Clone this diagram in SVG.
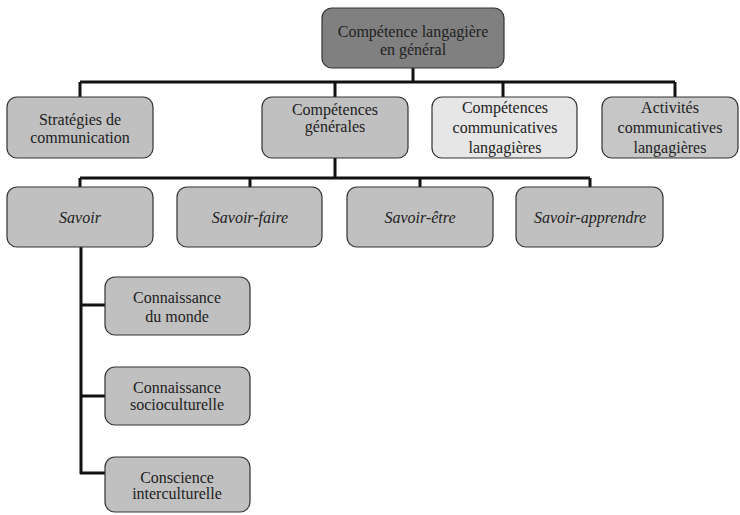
<svg xmlns="http://www.w3.org/2000/svg" width="740" height="515" viewBox="0 0 740 515">
<style>
.box{stroke:#333;stroke-width:1.2;fill:#c0c0c0}
.t{font-family:"Liberation Serif","Times New Roman",serif;font-size:16px;fill:#222;text-anchor:middle}
.i{font-style:italic}
.c{stroke:#111;stroke-width:3;fill:none}
</style>
<rect width="740" height="515" fill="#fff"/>
<g id="connectors">
<path class="c" d="M413 68V82M80 82H675M80 82V97M335 82V97M503 82V97M675 82V97"/>
<path class="c" d="M335 158V178M80 178H590M80 178V187M250 178V187M420 178V187M590 178V187"/>
<path class="c" d="M81 247V474M81 305H105M81 396H105M80 473H105"/>
</g>
<g id="n-top"><rect class="box" x="322" y="8" width="182" height="60" rx="10" fill="#808080" style="fill:#808080"/>
<text class="t" x="413" y="37">Compétence langagière</text><text class="t" x="413" y="55">en général</text></g>
<g id="n-strategies"><rect class="box" x="7" y="97" width="146" height="61" rx="10"/>
<text class="t" x="80" y="125">Stratégies de</text><text class="t" x="80" y="143">communication</text></g>
<g id="n-generales"><rect class="box" x="262" y="97" width="146" height="61" rx="10"/>
<text class="t" x="335" y="115">Compétences</text><text class="t" x="335" y="132">générales</text></g>
<g id="n-communicatives"><rect class="box" x="432" y="97" width="145" height="61" rx="10" style="fill:#e6e6e6"/>
<text class="t" x="505" y="113">Compétences</text><text class="t" x="505" y="133">communicatives</text><text class="t" x="505" y="153">langagières</text></g>
<g id="n-activites"><rect class="box" x="602" y="97" width="136" height="61" rx="10" style="fill:#c6c6c6"/>
<text class="t" x="670" y="113">Activités</text><text class="t" x="670" y="133">communicatives</text><text class="t" x="670" y="153">langagières</text></g>
<g id="n-savoir"><rect class="box" x="7" y="187" width="146" height="60" rx="10"/>
<text class="t i" x="80" y="223">Savoir</text></g>
<g id="n-savoir-faire"><rect class="box" x="177" y="187" width="145" height="60" rx="10"/>
<text class="t i" x="250" y="223">Savoir-faire</text></g>
<g id="n-savoir-etre"><rect class="box" x="347" y="187" width="146" height="60" rx="10"/>
<text class="t i" x="420" y="223">Savoir-être</text></g>
<g id="n-savoir-apprendre"><rect class="box" x="516" y="187" width="147" height="60" rx="10"/>
<text class="t i" x="590" y="223">Savoir-apprendre</text></g>
<g id="n-monde"><rect class="box" x="105" y="277" width="145" height="58" rx="10"/>
<text class="t" x="177" y="303">Connaissance</text><text class="t" x="177" y="322">du monde</text></g>
<g id="n-socio"><rect class="box" x="105" y="367" width="145" height="58" rx="10"/>
<text class="t" x="177" y="393">Connaissance</text><text class="t" x="177" y="410">socioculturelle</text></g>
<g id="n-inter"><rect class="box" x="105" y="457" width="145" height="55" rx="10"/>
<text class="t" x="177" y="483">Conscience</text><text class="t" x="177" y="499">interculturelle</text></g>
</svg>
